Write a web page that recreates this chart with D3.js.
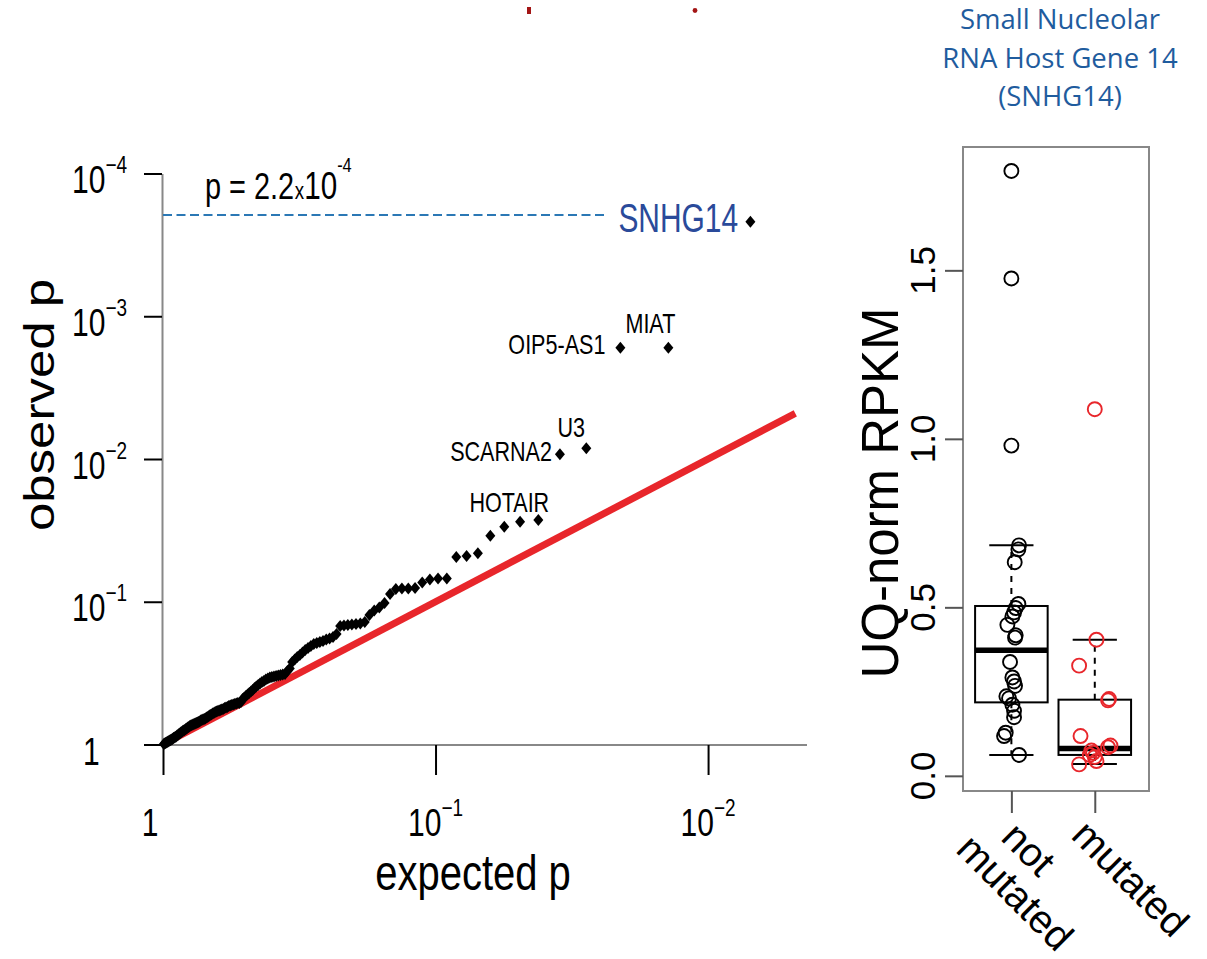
<!DOCTYPE html>
<html><head><meta charset="utf-8">
<script src="https://cdn.jsdelivr.net/npm/d3@7"></script>
<style>body{margin:0;background:#fff;} svg{display:block}</style>
</head><body>
<svg id="c" width="1207" height="959"></svg>
<script>
// ---------------- DATA ----------------
// QQ plot: observed -log10(p) for each gene, sorted by rank (most significant first)
const observedNegLog10P = [
 3.662, 2.780, 2.780, 2.075, 2.033, 1.573, 1.561, 1.526, 1.463, 1.339,
 1.320, 1.313, 1.163, 1.163, 1.156, 1.135, 1.096, 1.093, 1.093, 1.089,
 1.054, 0.991, 0.960, 0.939, 0.907, 0.858, 0.848, 0.844, 0.841, 0.837,
 0.834, 0.830, 0.774, 0.753, 0.743, 0.736, 0.725, 0.718, 0.711, 0.704,
 0.690, 0.676, 0.662, 0.644, 0.627, 0.613, 0.595, 0.578, 0.532, 0.515,
 0.494, 0.490, 0.487, 0.483, 0.480, 0.476, 0.473, 0.469, 0.462, 0.455,
 0.445, 0.438, 0.427, 0.417, 0.406, 0.396, 0.382, 0.371, 0.361, 0.350,
 0.340, 0.329, 0.319, 0.298, 0.291, 0.291, 0.287, 0.284, 0.280, 0.277,
 0.273, 0.270, 0.263, 0.259, 0.256, 0.249, 0.245, 0.242, 0.238, 0.235,
 0.231, 0.228, 0.221, 0.217, 0.210, 0.207, 0.200, 0.193, 0.189, 0.182,
 0.179, 0.175, 0.172, 0.168, 0.161, 0.158, 0.154, 0.151, 0.147, 0.144,
 0.140, 0.137, 0.133, 0.130, 0.123, 0.119, 0.112, 0.109, 0.102, 0.098,
 0.095, 0.088, 0.084, 0.077, 0.074, 0.067, 0.063, 0.056, 0.053, 0.049,
 0.046, 0.039, 0.035, 0.032, 0.028, 0.025, 0.021, 0.018, 0.014, 0.011,
 0.007, 0.004];
const geneLabels = ["SNHG14", "MIAT", "OIP5-AS1", "U3", "SCARNA2", "HOTAIR"];
const geneLabelRanks = [1, 2, 3, 4, 5, 8];
const thresholdP = 1.95e-4;           // dashed line level
const thresholdMantissa = "2.2";
const thresholdExponent = "-4";
const qqXTicks = [1, 0.1, 0.01];
const qqXTickExp = [null, 1, 2];
const qqYTicks = [1, 0.1, 0.01, 0.001, 0.0001];
const qqYTickExp = [null, 1, 2, 3, 4];
const qqXTitle = "expected p";
const qqYTitle = "observed p";

// Box plot
const boxCategories = [["not", "mutated"], ["mutated"]];
const notMutatedValues = [1.795, 1.476, 0.980, 0.684, 0.672, 0.634, 0.510, 0.498, 0.485, 0.473,
  0.448, 0.417, 0.410, 0.338, 0.292, 0.280, 0.267, 0.236, 0.230, 0.211, 0.193, 0.174, 0.128, 0.118, 0.062];
const notMutatedJitter = [0, 0, 0, 0.092, 0.084, 0.040, 0.084, 0.052, 0.032, 0.012,
  -0.048, 0.052, 0.044, -0.016, 0.012, 0.032, 0.044, -0.060, -0.028, 0.012, 0.032, 0.032, -0.068, -0.088, 0.092];
const mutatedValues = [1.088, 0.404, 0.327, 0.228, 0.224, 0.118, 0.090, 0.085, 0.075, 0.068, 0.062, 0.056, 0.044, 0.034];
const mutatedJitter = [0, 0.020, -0.188, 0.171, 0.159, -0.171, 0.188, 0.159, -0.040, -0.020, -0.060, 0, 0.020, -0.188];
// [lower whisker, Q1, median, Q3, upper whisker]
const notMutatedStats = [0.062, 0.218, 0.373, 0.504, 0.684];
const mutatedStats = [0.035, 0.062, 0.081, 0.226, 0.404];
const boxYTicks = [0, 0.5, 1.0, 1.5];
const boxYTickLabels = ["0.0", "0.5", "1.0", "1.5"];
const boxYTitle = "UQ-norm RPKM";
const titleLines = ["Small Nucleolar", "RNA Host Gene 14", "(SNHG14)"];

// ---------------- DRAWING ----------------
const FONT = "'Liberation Sans', Arial, Helvetica, sans-serif";
const RED = "#e8262b";
const svg = d3.select("#c");

function addText(parent, o, parts) {
  const g = parent.append("g")
    .attr("transform", `translate(${o.x},${o.y}) rotate(${o.rot || 0}) scale(${o.sx || 1},${o.sy || 1})`);
  const t = g.append("text").attr("font-family", o.family || FONT).attr("font-size", o.size)
    .attr("fill", o.fill || "#000").attr("text-anchor", o.anchor || "start");
  parts.forEach(p => {
    if (typeof p === "string") p = {text: p};
    const ts = t.append("tspan").text(p.text);
    if (p.size) ts.attr("font-size", p.size);
    if (p.dy) ts.attr("dy", p.dy);
    if (p.dx) ts.attr("dx", p.dx);
  });
  return t;
}

// remnants at the top
svg.append("rect").attr("x", 527).attr("y", 7).attr("width", 4).attr("height", 7).attr("fill", "#a31515");
svg.append("circle").attr("cx", 695).attr("cy", 10.5).attr("r", 2.4).attr("fill", "#a31515");

// ---- QQ plot ----
const n = observedNegLog10P.length;
const qq = observedNegLog10P.map((v, i) => ({obs: Math.pow(10, -v), exp: (i + 1) / (n + 1), rank: i + 1}));

const x = d3.scaleLog().domain([1, Math.pow(10, -2.363)]).range([163, 807]);
const y = d3.scaleLog().domain([1, 1e-4]).range([744.5, 173.5]);
const SX = 0.79;

const gq = svg.append("g");
// axes
const yAx = gq.append("g").attr("transform", "translate(162,0)")
  .call(d3.axisLeft(y).tickValues(qqYTicks).tickSize(18).tickSizeOuter(0).tickFormat(""));
yAx.select(".domain").attr("stroke", "#888").attr("stroke-width", 2);
yAx.selectAll(".tick line").attr("stroke", "#000").attr("stroke-width", 2);
const xAx = gq.append("g").attr("transform", "translate(0,745)")
  .call(d3.axisBottom(x).tickValues(qqXTicks).tickSize(30).tickSizeOuter(0).tickFormat(""));
xAx.select(".domain").attr("stroke", "#888").attr("stroke-width", 2).attr("d", `M${x(1)-1},0H${x.range()[1]}`);
xAx.selectAll(".tick line").attr("stroke", "#000").attr("stroke-width", 2);

// tick labels
qqYTicks.forEach((v, i) => {
  const e = qqYTickExp[i];
  if (e === null) addText(gq, {x: 83, y: y(v) + 20.5, sx: SX, size: 38}, ["1"]);
  else addText(gq, {x: 72, y: y(v) + 19.5, sx: SX, size: 38}, ["10", {text: "\u2212" + e, size: 24, dy: -20}]);
});
qqXTicks.forEach((v, i) => {
  const e = qqXTickExp[i];
  if (e === null) addText(gq, {x: x(v) - 13, y: 836, sx: SX, size: 38, anchor: "middle"}, ["1"]);
  else addText(gq, {x: x(v), y: 836, sx: SX, size: 38, anchor: "middle"}, ["10", {text: "\u2212" + e, size: 24, dy: -20}]);
});
// axis titles
addText(gq, {x: 473, y: 890, sx: 0.8, size: 50, anchor: "middle"}, [qqXTitle]);
addText(gq, {x: 54, y: 405, rot: -90, sy: 0.85, size: 51, anchor: "middle"}, [qqYTitle]);

// threshold dashed line
gq.append("line").attr("x1", 163).attr("x2", 607).attr("y1", y(thresholdP)).attr("y2", y(thresholdP))
  .attr("stroke", "#2b78b5").attr("stroke-width", 2).attr("stroke-dasharray", "9,4.5");
addText(gq, {x: 205, y: 199, sx: 0.78, size: 37}, ["p = " + thresholdMantissa,
  {text: "x", size: 24, dx: 1}, {text: "10", size: 38}, {text: thresholdExponent, size: 21, dy: -27}]);

// diagonal reference line
const lineEnd = Math.pow(10, -2.32);
gq.append("line").attr("x1", x(1)).attr("y1", y(1)).attr("x2", x(lineEnd)).attr("y2", y(lineEnd))
  .attr("stroke", RED).attr("stroke-width", 7);

// points
gq.selectAll("path.pt").data(qq).join("path").attr("class", "pt")
  .attr("d", "M0,-6L5,0L0,6L-5,0Z")
  .attr("transform", d => `translate(${x(d.exp)},${y(d.obs)})`)
  .attr("fill", "#000");

// gene labels
const labelStyle = {
  "SNHG14": {dx: -132, dy: 10, anchor: "start", size: 41, sx: 0.73, fill: "#2a4a9a"},
  "MIAT": {dx: -18, dy: -15, anchor: "middle", size: 28, sx: 0.77},
  "OIP5-AS1": {dx: -15, dy: 6, anchor: "end", size: 28, sx: 0.77},
  "U3": {dx: -15, dy: -11, anchor: "middle", size: 28, sx: 0.77},
  "SCARNA2": {dx: -8, dy: 7, anchor: "end", size: 28, sx: 0.77},
  "HOTAIR": {dx: 5, dy: -15, anchor: "middle", size: 28, sx: 0.77}
};
geneLabels.forEach((g, i) => {
  const d = qq[geneLabelRanks[i] - 1];
  const s = labelStyle[g];
  addText(gq, {x: x(d.exp) + s.dx, y: y(d.obs) + s.dy, sx: s.sx, size: s.size, anchor: s.anchor, fill: s.fill}, [g]);
});

// ---- Box plot ----
const xb = d3.scaleLinear().domain([0.42, 2.65]).range([963, 1149]);
const yb = d3.scaleLinear().domain([-0.045, 1.866]).range([791, 147]);
const gb = svg.append("g");

gb.append("rect").attr("x", xb(0.42)).attr("y", yb(1.866)).attr("width", xb(2.65) - xb(0.42))
  .attr("height", yb(-0.045) - yb(1.866)).attr("fill", "none").attr("stroke", "#888").attr("stroke-width", 2);

const byAx = gb.append("g").attr("transform", `translate(${xb(0.42)},0)`)
  .call(d3.axisLeft(yb).tickValues(boxYTicks).tickSize(18).tickFormat(""));
byAx.select(".domain").remove();
byAx.selectAll(".tick line").attr("stroke", "#555").attr("stroke-width", 2);
const bxAx = gb.append("g").attr("transform", `translate(0,${yb(-0.045)})`)
  .call(d3.axisBottom(xb).tickValues([1, 2]).tickSize(22).tickFormat(""));
bxAx.select(".domain").remove();
bxAx.selectAll(".tick line").attr("stroke", "#555").attr("stroke-width", 2);

boxYTicks.forEach((v, i) => {
  addText(gb, {x: 935, y: yb(v), rot: -90, size: 35, anchor: "middle"}, [boxYTickLabels[i]]);
});
addText(gb, {x: 898, y: 493, rot: -90, size: 51, anchor: "middle"}, [boxYTitle]);

// category labels
const catOffsets = [[[-12, 48], [-57, 60]], [[-25, 46]]];
boxCategories.forEach((lines, gi) => {
  lines.forEach((ln, li) => {
    const o = catOffsets[gi][li];
    addText(gb, {x: xb(gi + 1) + o[0], y: yb(-0.045) + o[1], rot: 45, size: 40}, [ln]);
  });
});

const groups = [
  {stats: notMutatedStats, vals: notMutatedValues, jit: notMutatedJitter, color: "#000"},
  {stats: mutatedStats, vals: mutatedValues, jit: mutatedJitter, color: RED}
];
const BW = 0.87, CAP = 0.53;
groups.forEach((g, gi) => {
  const c = gi + 1, s = g.stats;
  // whiskers
  gb.append("line").attr("x1", xb(c)).attr("x2", xb(c)).attr("y1", yb(s[3])).attr("y2", yb(s[4]))
    .attr("stroke", "#000").attr("stroke-width", 2).attr("stroke-dasharray", "6,6");
  gb.append("line").attr("x1", xb(c)).attr("x2", xb(c)).attr("y1", yb(s[1])).attr("y2", yb(s[0]))
    .attr("stroke", "#000").attr("stroke-width", 2).attr("stroke-dasharray", "6,6");
  [s[0], s[4]].forEach(v => gb.append("line").attr("x1", xb(c - CAP / 2)).attr("x2", xb(c + CAP / 2))
    .attr("y1", yb(v)).attr("y2", yb(v)).attr("stroke", "#000").attr("stroke-width", 2));
  gb.append("rect").attr("x", xb(c - BW / 2)).attr("width", xb(c + BW / 2) - xb(c - BW / 2))
    .attr("y", yb(s[3])).attr("height", yb(s[1]) - yb(s[3]))
    .attr("fill", "none").attr("stroke", "#000").attr("stroke-width", 2);
  gb.append("line").attr("x1", xb(c - BW / 2)).attr("x2", xb(c + BW / 2)).attr("y1", yb(s[2])).attr("y2", yb(s[2]))
    .attr("stroke", "#000").attr("stroke-width", 5.5);
  gb.selectAll(null).data(g.vals).join("circle")
    .attr("cx", (d, i) => xb(c + g.jit[i])).attr("cy", d => yb(d)).attr("r", 7)
    .attr("fill", "none").attr("stroke", g.color).attr("stroke-width", 1.9);
});

// title
titleLines.forEach((t, i) => {
  addText(svg, {x: 1060, y: 29 + i * 38.5, size: 27.5, anchor: "middle", fill: "#1f5c9e", family: "'Open Sans', 'Noto Sans', sans-serif"}, [t]);
});
</script>
</body></html>
